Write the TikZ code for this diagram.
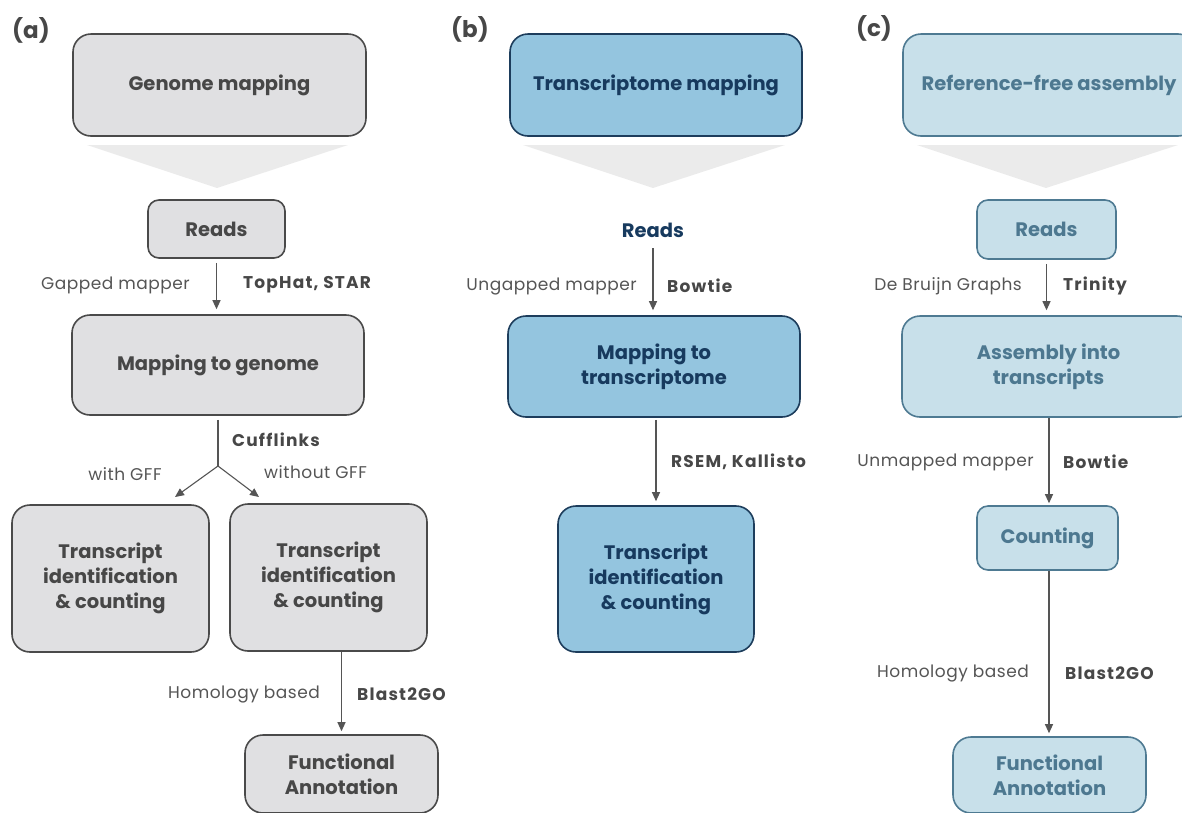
\documentclass[tikz,border=0pt]{standalone}
\usepackage{fontspec}
\setmainfont{Poppins}
\usetikzlibrary{arrows.meta}
\definecolor{gfill}{HTML}{E0E0E2}
\definecolor{gline}{HTML}{4A4A4A}
\definecolor{gtext}{HTML}{474747}
\definecolor{bfill}{HTML}{94C5DF}
\definecolor{bline}{HTML}{1D3D5C}
\definecolor{btext}{HTML}{173A5E}
\definecolor{cfill}{HTML}{C8E0EA}
\definecolor{cline}{HTML}{4E7A92}
\definecolor{ctext}{HTML}{4D7890}
\definecolor{funnel}{HTML}{EBEBEB}
\definecolor{arr}{HTML}{555555}
\definecolor{lbl}{HTML}{555555}
\begin{document}
\begin{tikzpicture}[x=1pt,y=-1pt,
  box/.style={rectangle, rounded corners=18pt, line width=1.6pt, align=center, inner sep=0pt,
    font=\bfseries\fontsize{19.5}{25}\selectfont},
  smallbox/.style={box, rounded corners=11pt},
  gbox/.style={box, draw=gline, fill=gfill, text=gtext},
  bbox/.style={box, draw=bline, fill=bfill, text=btext},
  cbox/.style={box, draw=cline, fill=cfill, text=ctext},
  flow/.style={draw=arr, line width=1.1pt, -{Triangle[length=9pt,width=8pt]}},
  plain/.style={draw=arr, line width=1.1pt},
  lab/.style={font=\fontsize{17}{20}\selectfont\addfontfeatures{LetterSpace=3}, text=lbl, inner sep=0pt},
  tool/.style={font=\bfseries\fontsize{17}{20}\selectfont\addfontfeatures{LetterSpace=7}, text=gtext, inner sep=0pt},
  panel/.style={font=\bfseries\fontsize{23}{26}\selectfont, text=gtext, inner sep=0pt},
  fun/.style={fill=funnel, draw=none}
]
\useasboundingbox (0,0) rectangle (1182,812);
\clip (0,0) rectangle (1182,812);

% ---------------- panel (a)
\node[panel] (pa) at (31,30) {(a)};
\node[gbox, minimum width=293pt, minimum height=102pt] (ga) at (219.5,85) {Genome mapping};
\fill[fun] (87,145) -- (348,145) -- (217,188) -- cycle;
\node[gbox, smallbox, minimum width=137pt, minimum height=58pt] (ra) at (216.5,229) {Reads};
\node[gbox, minimum width=292pt, minimum height=100pt] (ma) at (218,365) {Mapping to genome};
\node[gbox, minimum width=197pt, minimum height=147pt] (tl) at (110.5,578.5) {Transcript\\identification\\\& counting};
\node[gbox, minimum width=197pt, minimum height=147pt] (tr) at (328.5,577.5) {Transcript\\identification\\\& counting};
\node[gbox, minimum width=193pt, minimum height=78pt] (fa) at (341.5,774) {Functional\\Annotation};

\draw[flow, shorten <=4pt, shorten >=5pt] (ra.south) -- (ra.south |- ma.north);
\node[lab, anchor=east] (la1) at (190,285) {Gapped mapper};
\node[tool, anchor=west] (ta1) at (243,285) {TopHat, STAR};

\coordinate (sp) at (218,466);
\coordinate (el) at (175,497);
\coordinate (er) at (259,497);
\draw[plain, shorten <=4pt] (ma.south) -- (sp);
\draw[flow] (sp) -- (el);
\draw[flow] (sp) -- (er);
\node[tool, anchor=west] (ta2) at (232,440) {Cufflinks};
\node[lab] (la2) at (125,474) {with GFF};
\node[lab, anchor=west] (la3) at (264,472) {without GFF};

\draw[flow, shorten >=3pt] (tr.south -| fa.north) -- (fa.north);
\node[lab, anchor=east] (la4) at (320,694) {Homology based};
\node[tool, anchor=west] (ta4) at (357,694) {Blast2GO};

% ---------------- panel (b)
\node[panel] (pb) at (470,29) {(b)};
\node[bbox, minimum width=292pt, minimum height=102pt] (tb) at (656,85) {Transcriptome mapping};
\fill[fun] (523,145) -- (785,145) -- (653,188) -- cycle;
\node[font=\bfseries\fontsize{19.5}{25}\selectfont, text=btext, inner sep=0pt, minimum height=30pt] (rb) at (653,230) {Reads};
\node[bbox, minimum width=292pt, minimum height=101pt] (mb) at (654,366.5) {Mapping to\\transcriptome};
\node[bbox, minimum width=196pt, minimum height=146pt] (tib) at (656,579) {Transcript\\identification\\\& counting};

\draw[flow, shorten <=18pt, shorten >=5pt] (rb.center) -- (rb.center |- mb.north);
\node[lab, anchor=east] (lb1) at (637,286) {Ungapped mapper};
\node[tool, anchor=west] (tb1) at (667,286) {Bowtie};
\draw[flow, shorten <=2pt, shorten >=4pt] (tib.north |- mb.south) -- (tib.north);
\node[tool, anchor=west] (tb2) at (671,462) {RSEM, Kallisto};

% ---------------- panel (c)
\node[panel] (pc) at (874,28) {(c)};
\node[cbox, minimum width=293pt, minimum height=102pt] (rc) at (1049.5,85) {};
\node[font=\bfseries\fontsize{19.5}{25}\selectfont, text=ctext, inner sep=0pt] (rct) at (1049,85) {Reference-free assembly};
\fill[fun] (917,145) -- (1178,145) -- (1046,188) -- cycle;
\node[cbox, smallbox, minimum width=139pt, minimum height=59pt] (rdc) at (1046.5,229.5) {Reads};
\node[cbox, minimum width=293pt, minimum height=101pt] (asm) at (1048.5,366.5) {Assembly into\\transcripts};
\node[cbox, smallbox, minimum width=141pt, minimum height=64pt] (cnt) at (1047.5,538) {Counting};
\node[cbox, minimum width=193pt, minimum height=76pt] (fc) at (1049.5,775) {Functional\\Annotation};

\draw[flow, shorten <=4pt, shorten >=5pt] (rdc.south) -- (rdc.south |- asm.north);
\node[lab, anchor=east] (lc1) at (1022,286) {De Bruijn Graphs};
\node[tool, anchor=west] (tc1) at (1063,286) {Trinity};
\draw[flow, shorten <=1pt, shorten >=2pt] (1049,417) coordinate (a1) -- (a1 |- cnt.north);
\node[lab, anchor=east] (lc2) at (1034,462) {Unmapped mapper};
\node[tool, anchor=west] (tc2) at (1063,462) {Bowtie};
\draw[flow, shorten >=3pt] (cnt.south -| a1) -- (a1 |- fc.north);
\node[lab, anchor=east] (lc3) at (1029,673) {Homology based};
\node[tool, anchor=west] (tc3) at (1065,673) {Blast2GO};
\end{tikzpicture}
\end{document}
